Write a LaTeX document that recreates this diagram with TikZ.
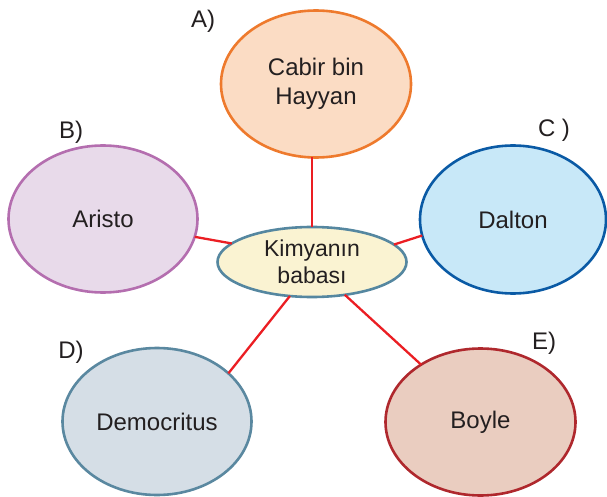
\documentclass[tikz,border=0pt]{standalone}
\usepackage{fontspec}
\setmainfont{Liberation Sans}
\usetikzlibrary{shapes.geometric}
\definecolor{txt}{HTML}{231F20}
\definecolor{redline}{HTML}{EB1E23}
\definecolor{aFill}{HTML}{FBDCC4}\definecolor{aDraw}{HTML}{EE7A2D}
\definecolor{bFill}{HTML}{E8DAEA}\definecolor{bDraw}{HTML}{B46EAF}
\definecolor{cFill}{HTML}{C8E8F8}\definecolor{cDraw}{HTML}{0A5AA5}
\definecolor{kFill}{HTML}{FAF3D2}\definecolor{kDraw}{HTML}{5587A0}
\definecolor{dFill}{HTML}{D5DEE6}\definecolor{dDraw}{HTML}{5A88A0}
\definecolor{eFill}{HTML}{EACDC0}\definecolor{eDraw}{HTML}{AF282D}
\begin{document}
\begin{tikzpicture}[x=1pt,y=-1pt,
  bubble/.style={ellipse, line width=2.6pt, inner sep=0pt, outer sep=0pt,
    minimum width=189pt, minimum height=147pt, align=center, text=txt,
    font=\fontsize{24}{29}\selectfont},
  tag/.style={text=txt, inner sep=0pt, font=\fontsize{24}{29}\selectfont},
  link/.style={redline, line width=2.3pt}]
\useasboundingbox (0,0) rectangle (607,497);
\node[bubble, fill=aFill, draw=aDraw, minimum width=190pt] (a) at (316,84) {Cabir bin\\Hayyan};
\node[bubble, fill=bFill, draw=bDraw] (b) at (103,219) {Aristo};
\node[bubble, fill=cFill, draw=cDraw, minimum width=186pt, minimum height=148pt] (c) at (513,219.5) {Dalton};
\node[bubble, fill=kFill, draw=kDraw, minimum height=70pt, font=\fontsize{23}{27}\selectfont] (k) at (312,262) {Kimyanın\\babası};
\node[bubble, fill=dFill, draw=dDraw] (d) at (157,421.5) {Democritus};
\node[bubble, fill=eFill, draw=eDraw, minimum width=190pt, minimum height=147pt] (e) at (480.5,422) {Boyle};
\node[tag] (la) at (203,21) {A)};
\node[tag] (lb) at (71,132) {B)};
\node[tag] (lc) at (554,130) {C )};
\node[tag] (ld) at (71,352) {D)};
\node[tag] (le) at (544,343) {E)};
\draw[link] (k.north) -- (k.north |- a.south);
\draw[link] (k.167.6) -- (b.-11.3);
\draw[link] (k.12.2) -- (c.190.8);
\draw[link] (k.237.5) -- (d.34.2);
\draw[link] (k.-45.3) -- (e.136.4);
\end{tikzpicture}
\end{document}
